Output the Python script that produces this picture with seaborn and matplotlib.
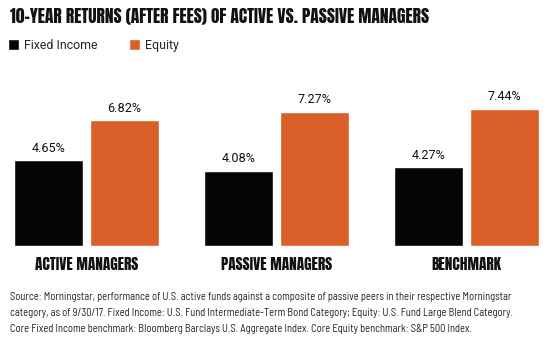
import matplotlib
matplotlib.use('Agg')
import matplotlib.pyplot as plt
import pandas as pd
import seaborn as sns
from matplotlib import font_manager

sns.set_style('white')

names = {f.name for f in font_manager.fontManager.ttflist}


def pick(cands):
    for c in cands:
        if c in names:
            return c
    return 'DejaVu Sans'


head_font = pick(['Anton', 'Barlow Condensed', 'Roboto Condensed', 'Archivo Narrow', 'Liberation Sans'])
body_font = pick(['Roboto', 'Liberation Sans'])
note_font = pick(['Barlow Semi Condensed', 'Roboto Condensed', 'Archivo Narrow', 'Liberation Sans'])
plt.rcParams['font.family'] = [body_font, 'DejaVu Sans']

# data
groups = ['ACTIVE MANAGERS', 'PASSIVE MANAGERS', 'BENCHMARK']
series = ['Fixed Income', 'Equity']
fixed_income = [4.65, 4.08, 4.27]
equity = [6.82, 7.27, 7.44]
colors = {'Fixed Income': '#050505', 'Equity': '#DA5F28'}

title = '10-YEAR RETURNS (AFTER FEES) OF ACTIVE VS. PASSIVE MANAGERS'
source = ('Source: Morningstar, performance of U.S. active funds against a composite of passive peers in their respective Morningstar\n'
          'category, as of 9/30/17. Fixed Income: U.S. Fund Intermediate-Term Bond Category; Equity: U.S. Fund Large Blend Category.\n'
          'Core Fixed Income benchmark: Bloomberg Barclays U.S. Aggregate Index. Core Equity benchmark: S&P 500 Index.')

df = pd.DataFrame({
    'group': groups * 2,
    'series': [series[0]] * 3 + [series[1]] * 3,
    'value': fixed_income + equity,
})

fig = plt.figure(figsize=(5.5, 3.53), dpi=100)
ax = fig.add_axes([0, 0.3031, 1, 0.442])

sns.barplot(data=df, x='group', y='value', hue='series', palette=colors,
            width=0.8, gap=0.09, saturation=1, ax=ax)

labels_txt = []
for c in ax.containers:
    labels_txt += ax.bar_label(c, labels=['%.2f%%' % v for v in c.datavalues], padding=4,
                               fontsize=8.5, color='#111111')

ax.set_xlim(-0.455, 2.439)
ax.set_ylim(0, 8.455)
ax.set_xlabel('')
ax.set_ylabel('')
ax.set_yticks([])
sns.despine(ax=ax, left=True, bottom=True)
ax.tick_params(axis='x', length=0, pad=8)
for t in ax.get_xticklabels():
    t.set_fontfamily(head_font)
    t.set_fontweight('heavy')
    t.set_fontsize(11.5)
    t.set_color('#111111')

handles, labels = ax.get_legend_handles_labels()
leg = ax.legend(handles, labels, loc='upper left', bbox_to_anchor=(8 / 550, 1 - 39 / 353),
                bbox_transform=fig.transFigure, ncol=2, frameon=False, fontsize=9.5,
                handlelength=0.85, handleheight=0.85, handletextpad=0.35, columnspacing=2.4,
                borderpad=0, borderaxespad=0)

t_title = fig.text(10 / 550, 1 - 23 / 353, title, fontfamily=head_font, fontweight='heavy',
                   fontsize=14, color='#111111', va='baseline', ha='left')
t_note = fig.text(10 / 550, 1 - 292 / 353, source, fontfamily=note_font, fontsize=7,
                  color='#222222', va='top', ha='left', linespacing=1.75)

# fit text widths to the reference
r = fig.canvas.get_renderer()


def fit(t, width):
    w = t.get_window_extent(r).width
    t.set_fontsize(t.get_fontsize() * width / w)


fit(t_title, 422)
fit(t_note, 502)
tl = ax.get_xticklabels()
w0 = tl[0].get_window_extent(r).width
for t in tl:
    t.set_fontsize(t.get_fontsize() * 103 / w0)
w1 = labels_txt[0].get_window_extent(r).width
for t in labels_txt:
    t.set_fontsize(t.get_fontsize() * 34 / w1)
lt = leg.get_texts()[0]
s = 74 / lt.get_window_extent(r).width
for t in leg.get_texts():
    t.set_fontsize(t.get_fontsize() * s)

fig.savefig('out.png', dpi=100)
